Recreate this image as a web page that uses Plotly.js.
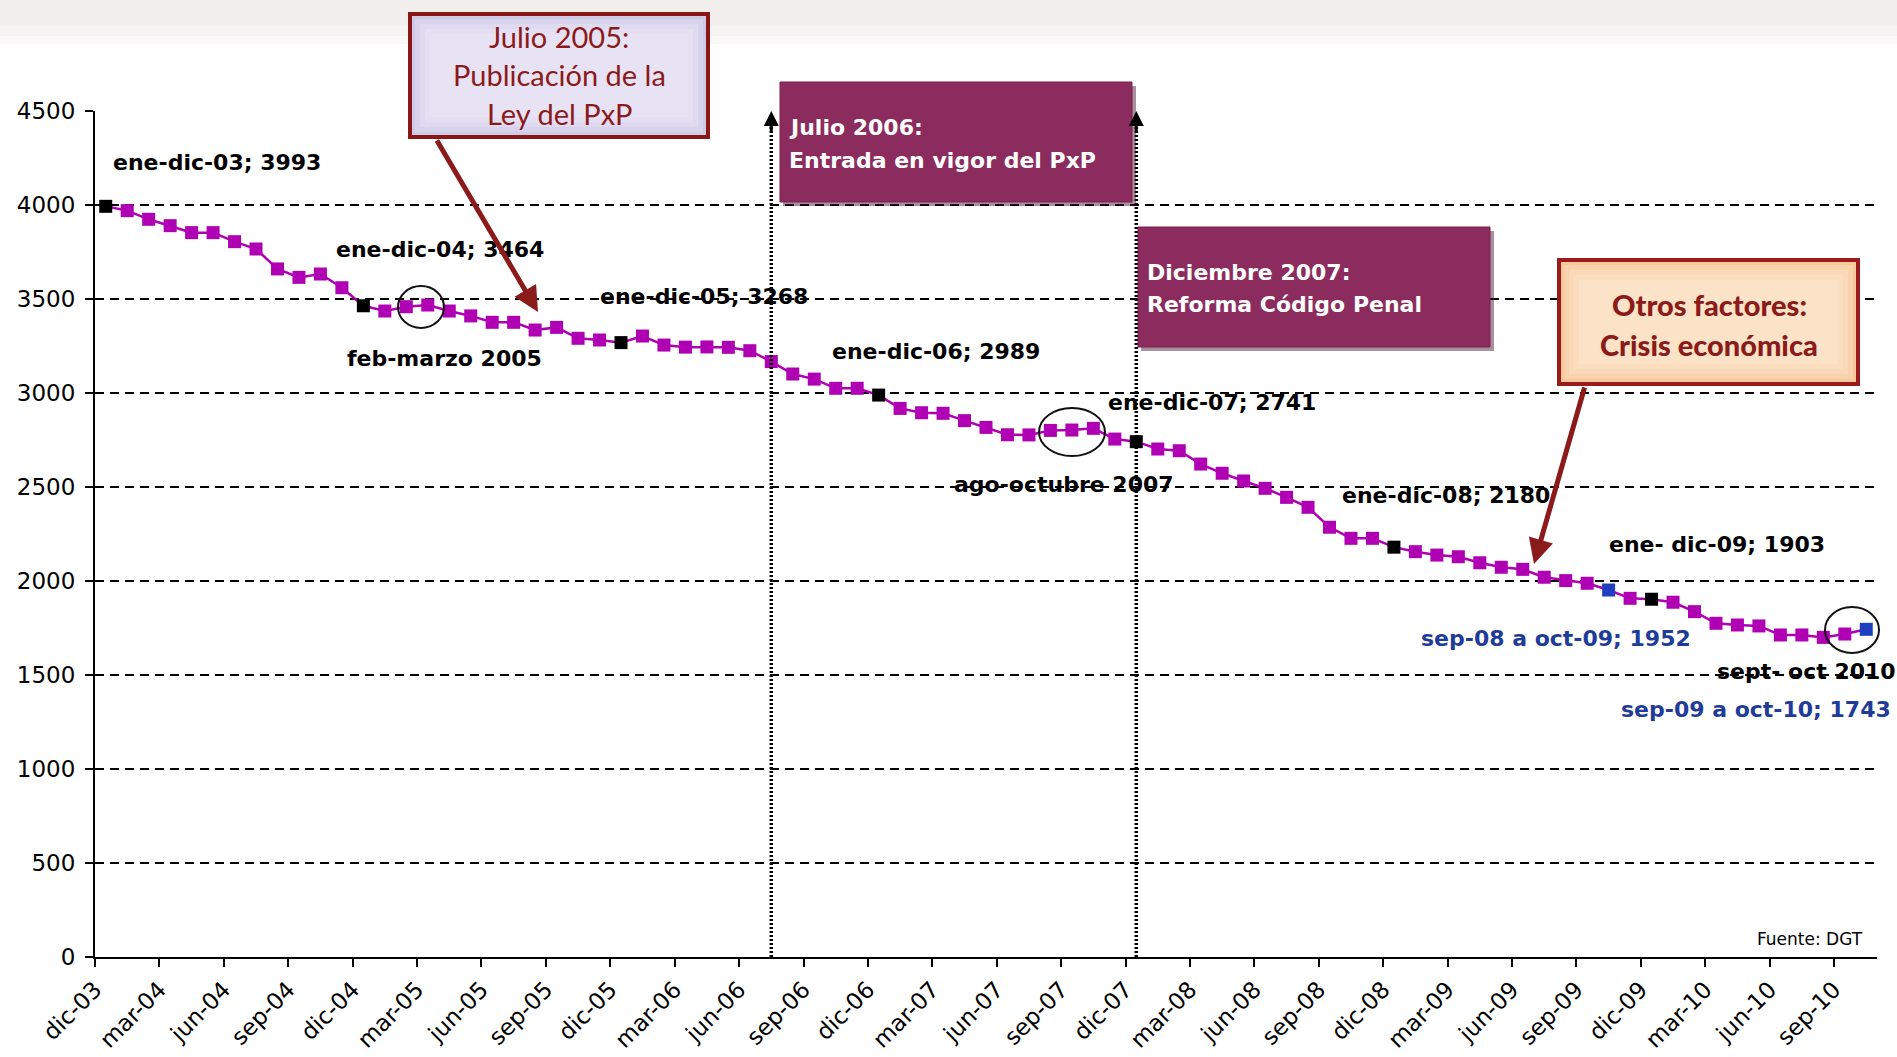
<!DOCTYPE html>
<html>
<head>
<meta charset="utf-8">
<script src="https://cdn.plot.ly/plotly-3.0.1.min.js"></script>
<style>html,body{margin:0;padding:0;background:#fff;}#chart{width:1897px;height:1057px;}</style>
</head>
<body>
<div id="chart"></div>
<script>
// ---- DATA ----
const months = ["dic-03","ene-04","feb-04","mar-04","abr-04","may-04","jun-04","jul-04","ago-04","sep-04","oct-04","nov-04",
"dic-04","ene-05","feb-05","mar-05","abr-05","may-05","jun-05","jul-05","ago-05","sep-05","oct-05","nov-05",
"dic-05","ene-06","feb-06","mar-06","abr-06","may-06","jun-06","jul-06","ago-06","sep-06","oct-06","nov-06",
"dic-06","ene-07","feb-07","mar-07","abr-07","may-07","jun-07","jul-07","ago-07","sep-07","oct-07","nov-07",
"dic-07","ene-08","feb-08","mar-08","abr-08","may-08","jun-08","jul-08","ago-08","sep-08","oct-08","nov-08",
"dic-08","ene-09","feb-09","mar-09","abr-09","may-09","jun-09","jul-09","ago-09","sep-09","oct-09","nov-09",
"dic-09","ene-10","feb-10","mar-10","abr-10","may-10","jun-10","jul-10","ago-10","sep-10","oct-10"];

const fallecidos = [3993,3970,3924,3890,3853,3853,3805,3766,3660,3615,3633,3560,
3464,3436,3459,3468,3436,3410,3376,3376,3335,3349,3291,3282,
3268,3303,3255,3244,3245,3243,3225,3167,3101,3074,3025,3025,
2989,2918,2895,2892,2853,2817,2778,2777,2801,2803,2812,2755,
2741,2702,2693,2622,2573,2532,2493,2445,2392,2286,2227,2227,
2180,2156,2138,2129,2097,2073,2062,2020,2002,1988,1952,1908,
1903,1887,1837,1775,1766,1761,1713,1713,1700,1718,1743];

const tickLabels = ["dic-03","mar-04","jun-04","sep-04","dic-04","mar-05","jun-05","sep-05","dic-05","mar-06","jun-06","sep-06",
"dic-06","mar-07","jun-07","sep-07","dic-07","mar-08","jun-08","sep-08","dic-08","mar-09","jun-09","sep-09",
"dic-09","mar-10","jun-10","sep-10"];

const blueMonths = ["oct-09","oct-10"];
const eventMonths = ["jul-06","dic-07"];
const yTicks = [0,500,1000,1500,2000,2500,3000,3500,4000,4500];

// ---- helpers (layout only) ----
const L = 95, R = 1877, T = 111, B = 957;
const X = px => (px - L) / (R - L);
const Y = py => (B - py) / (B - T);

const MAG = "#B000B4", BLK = "#000000", BLU = "#1F3FBF";
const xIdx = months.map((m, i) => i);
const mColors = months.map(m => blueMonths.includes(m) ? BLU : (m.startsWith("dic") ? BLK : MAG));
const tickVals = tickLabels.map(t => months.indexOf(t) - 0.5);

const trace = {
  x: xIdx, y: fallecidos, text: months, type: "scatter", mode: "lines+markers",
  line: {color: MAG, width: 2.5},
  marker: {symbol: "square", size: 13, color: mColors, line: {width: 0}},
  hovertemplate: "%{text}: %{y}<extra></extra>", showlegend: false, cliponaxis: false
};

const shapes = [];
// faint top band (background photo strip)
[[0, 44, 0.25], [0, 36, 0.25], [0, 26, 0.25]].forEach(([a, b, o]) => shapes.push({type: "rect", xref: "paper", yref: "paper",
  x0: X(0), x1: X(1897), y0: Y(b), y1: Y(a), fillcolor: "rgba(236,228,226," + o + ")", line: {width: 0}, layer: "below"}));
// dashed horizontal gridlines
yTicks.filter(v => v > 0 && v < 4500).forEach(v => shapes.push({
  type: "line", xref: "paper", yref: "y", x0: 0, x1: 1, y0: v, y1: v,
  line: {color: "#000", width: 1.8, dash: "9px,6px"}, layer: "below"
}));
// dotted event lines
eventMonths.forEach(m => shapes.push({
  type: "line", xref: "x", yref: "y", x0: months.indexOf(m), x1: months.indexOf(m), y0: 0, y1: 4460,
  line: {color: "#000", width: 3.5, dash: "2px,2px"}, layer: "above"
}));

function rect(x0, y0, x1, y1, fill, lineColor, lw) {
  return {type: "rect", xref: "paper", yref: "paper", x0: X(x0), x1: X(x1), y0: Y(y1), y1: Y(y0),
    fillcolor: fill, line: {color: lineColor, width: lw}, layer: "above"};
}
function ell(cx, cy, rx, ry) {
  return {type: "circle", xref: "paper", yref: "paper", x0: X(cx - rx), x1: X(cx + rx), y0: Y(cy + ry), y1: Y(cy - ry),
    line: {color: "#111", width: 2}, layer: "above"};
}
function soft(x0, y0, x1, y1, rgb, steps) {
  for (let k = 1; k <= steps; k++) {
    const d = k * 5;
    shapes.push(rect(x0 + d, y0 + d, x1 - d, y1 - d, "rgba(" + rgb + ",0.28)", "rgba(0,0,0,0)", 0));
  }
}
// plum boxes with shadow
shapes.push(rect(783, 86, 1136, 206, "rgba(60,10,35,0.45)", "rgba(0,0,0,0)", 0));
shapes.push(rect(780, 82, 1132, 202, "#8C2C5E", "#7A2150", 1));
shapes.push(rect(1141, 231, 1494, 351, "rgba(60,10,35,0.45)", "rgba(0,0,0,0)", 0));
shapes.push(rect(1138, 227, 1490, 347, "#8C2C5E", "#7A2150", 1));
// lavender box (soft lighter centre)
shapes.push(rect(410, 14, 708, 137, "#CFCAE6", "#8B1616", 4));
soft(410, 14, 708, 137, "240,238,250", 4);
// peach box (soft lighter centre)
shapes.push(rect(1559, 260, 1858, 384, "#F6C89C", "#9B1B1B", 4));
soft(1559, 260, 1858, 384, "254,236,216", 4);
// ellipses
shapes.push(ell(421, 307, 23, 21));
shapes.push(ell(1072, 432, 33, 24));
shapes.push(ell(1852, 630, 27, 23));

const ann = [];
function txt(s, px, py, color, size, family, anchor) {
  ann.push({text: s, xref: "paper", yref: "paper", x: X(px), y: Y(py), xanchor: anchor || "left", yanchor: "middle",
    showarrow: false, font: {family: family || "DejaVu Sans", size: size || 22, color: color || "#000", weight: "bold"}});
}
txt("ene-dic-03; 3993", 111, 163);
txt("ene-dic-04; 3464", 334, 249);
txt("feb-marzo 2005", 345, 358);
txt("ene-dic-05; 3268", 598, 296);
txt("ene-dic-06; 2989", 830, 351);
txt("ene-dic-07; 2741", 1106, 402);
txt("ago-octubre 2007", 952, 484);
txt("ene-dic-08; 2180", 1340, 495);
txt("ene- dic-09; 1903", 1607, 544);
txt("sep-08 a oct-09; 1952", 1419, 638, "#1F3C99");
txt("sept- oct 2010", 1715, 671);
txt("sep-09 a oct-10; 1743", 1619, 709, "#1F3C99");
ann.push({text: "Fuente: DGT", xref: "paper", yref: "paper", x: X(1865), y: Y(939), xanchor: "right", yanchor: "middle",
  showarrow: false, font: {family: "DejaVu Sans", size: 17, color: "#000"}});
// plum box texts
txt("Julio 2006:", 787, 127, "#fff", 22);
txt("Entrada en vigor del PxP", 787, 160, "#fff", 22);
txt("Diciembre 2007:", 1145, 272, "#fff", 22);
txt("Reforma Código Penal", 1145, 304, "#fff", 22);
// lavender box text
[["Julio 2005:", 37], ["Publicación de la", 75], ["Ley del PxP", 114]].forEach(([s, py]) =>
  ann.push({text: s, xref: "paper", yref: "paper", x: X(559), y: Y(py), xanchor: "center", yanchor: "middle",
    showarrow: false, font: {family: "Lato", size: 29, color: "#8B1A1A"}}));
// peach box text
[["Otros factores:", 304], ["Crisis económica", 344]].forEach(([s, py]) =>
  ann.push({text: s, xref: "paper", yref: "paper", x: X(1709), y: Y(py), xanchor: "center", yanchor: "middle",
    showarrow: false, font: {family: "Lato", size: 29, color: "#8B1A1A", weight: 900}}));
// red arrows
ann.push({text: "", xref: "paper", yref: "paper", x: X(538), y: Y(312), ax: 436 - 538, ay: 139 - 312,
  showarrow: true, arrowhead: 2, arrowsize: 1, arrowwidth: 5, arrowcolor: "#8B1A1A"});
ann.push({text: "", xref: "paper", yref: "paper", x: X(1534), y: Y(564), ax: 1585 - 1534, ay: 386 - 564,
  showarrow: true, arrowhead: 2, arrowsize: 1, arrowwidth: 5, arrowcolor: "#8B1A1A"});
// up arrowheads on event lines
eventMonths.forEach(m => ann.push({text: "", xref: "x", yref: "y", x: months.indexOf(m), y: 4500, ax: 0, ay: 22,
  showarrow: true, arrowhead: 2, arrowsize: 1, arrowwidth: 3, arrowcolor: "#000"}));

const layout = {
  width: 1897, height: 1057,
  margin: {l: L, r: 1897 - R, t: T, b: 1057 - B, pad: 0},
  paper_bgcolor: "#fff", plot_bgcolor: "rgba(0,0,0,0)",
  xaxis: {range: [-0.5, months.length - 0.5], tickvals: tickVals, ticktext: tickLabels, tickangle: -45,
    showgrid: false, zeroline: false, showline: true, linecolor: "#000", linewidth: 2,
    ticks: "outside", ticklen: 8, tickwidth: 2, tickcolor: "#000",
    tickfont: {family: "DejaVu Sans", size: 23, color: "#000"}},
  yaxis: {range: [0, 4500], tickvals: yTicks, showgrid: false, zeroline: false, showline: true, linecolor: "#000", linewidth: 2,
    ticks: "outside", ticklen: 8, tickwidth: 2, tickcolor: "#000", ticklabelstandoff: 5,
    tickfont: {family: "DejaVu Sans", size: 23, color: "#000"}},
  shapes: shapes, annotations: ann, showlegend: false
};
Plotly.newPlot("chart", [trace], layout, {displayModeBar: false, staticPlot: true});
</script>
</body>
</html>
